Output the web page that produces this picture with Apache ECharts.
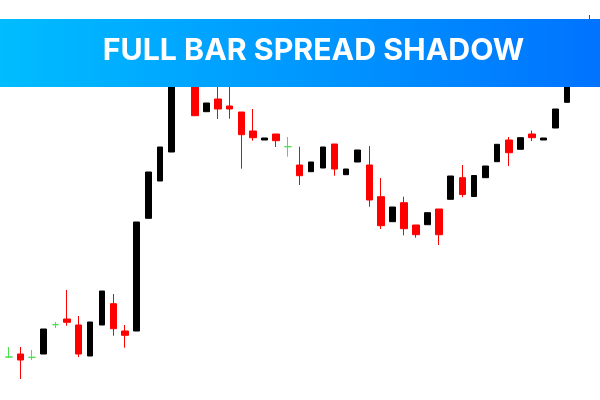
<!DOCTYPE html>
<html>
<head>
<meta charset="utf-8">
<script src="https://cdn.jsdelivr.net/npm/echarts@6/dist/echarts.min.js"></script>
<style>
html,body{margin:0;padding:0;background:#fff;}
#c{width:600px;height:400px;}
</style>
</head>
<body>
<div id="c"></div>
<script>
// Candle index (bar number)
const categories = Array.from({length: 51}, (_, i) => String(i + 1));
// Price values (arbitrary points scale)
const openVals  = [43, 46, 42.7, 46, 75.3, 81, 75, 44, 75, 96.3, 69, 69, 181.7, 219, 248, 325, 335, 288.3, 301, 294, 288, 269, 260, 266, 253.3, 235, 228.3, 232, 256, 225.3, 238, 235, 203.3, 178.3, 197.3, 175, 175.3, 191, 200.7, 222.3, 203.5, 222.3, 238.3, 260, 250.7, 266, 260, 272, 297.7, 335, 375];
const closeVals = [43, 40, 42.7, 71, 75.3, 77.7, 46, 78, 109, 71.3, 64.7, 178, 228, 253, 335, 365, 284.3, 297, 291, 291, 265.3, 262.3, 262, 259.3, 253.3, 224.3, 238, 253, 231, 231, 250, 200, 174.3, 193, 171.3, 165.3, 187.3, 165.3, 224, 205.5, 224.5, 234, 255.7, 247.3, 262.3, 262.3, 262, 291, 330, 370, 350];
const lowVals   = [42, 21, 40, 46, 72, 74.3, 43, 44, 75, 64.3, 52.3, 69, 181.7, 219, 248, 325, 284.3, 288.3, 281, 281.3, 231.3, 259.3, 260, 253, 243.3, 215, 228.3, 232, 224.3, 225.3, 238, 193.3, 171, 178.3, 164.7, 162.3, 175.3, 155, 200.7, 202.7, 203.5, 222.3, 238.3, 234, 250.7, 259, 260, 272, 297.7, 335, 340];
const highVals  = [53, 53, 50, 71, 78, 110, 84, 78, 109, 106, 75, 178, 228, 253, 335, 365, 345, 297, 325, 320, 288, 291, 262, 266, 263, 253.3, 238, 253, 256, 231, 250, 254, 222, 193, 203.3, 175, 187.3, 191, 224, 235, 224.5, 234, 255.7, 263, 262.3, 269.3, 262, 291, 330, 370, 385];
const titleText = 'FULL BAR SPREAD SHADOW';

const upData = [], downData = [], dojiData = [];
for (let i = 0; i < categories.length; i++) {
  const v = [openVals[i], closeVals[i], lowVals[i], highVals[i]];
  const blank = ['-', '-', '-', '-'];
  if (openVals[i] === closeVals[i]) { dojiData.push(v); upData.push(blank); downData.push(blank); }
  else if (closeVals[i] > openVals[i]) { upData.push(v); downData.push(blank); dojiData.push(blank); }
  else { downData.push(v); upData.push(blank); dojiData.push(blank); }
}

const chart = echarts.init(document.getElementById('c'), null, {renderer: 'canvas'});
const green = '#4be04b';
chart.setOption({
  animation: false,
  backgroundColor: '#ffffff',
  grid: {left: 3, right: 4, top: 0, bottom: 0},
  xAxis: {type: 'category', data: categories, boundaryGap: true, show: false},
  yAxis: {type: 'value', min: 0, max: 400, show: false},
  series: [
    {
      type: 'candlestick', data: upData, barWidth: 6,
      itemStyle: {color: '#000', color0: '#000', borderColor: '#000', borderColor0: '#000', borderColorDoji: '#000', borderWidth: 1}
    },
    {
      type: 'candlestick', data: downData, barWidth: 7,
      itemStyle: {color: '#ff0000', color0: '#ff0000', borderColor: '#ff0000', borderColor0: '#ff0000', borderColorDoji: '#ff0000', borderWidth: 1}
    },
    {
      type: 'candlestick', data: dojiData, barWidth: 7,
      itemStyle: {color: green, color0: green, borderColor: green, borderColor0: green, borderColorDoji: green, borderWidth: 1}
    }
  ],
  graphic: [
    {
      type: 'rect', z: 100, silent: true,
      shape: {x: 0, y: 19, width: 600, height: 68},
      style: {
        fill: new echarts.graphic.LinearGradient(0, 0, 1, 0, [
          {offset: 0, color: '#00BDFF'},
          {offset: 1, color: '#0073FF'}
        ])
      }
    },
    {
      type: 'text', z: 101, silent: true,
      x: 313.5, y: 51,
      style: {
        text: titleText, fill: '#ffffff',
        font: '700 30.3px Inter',
        align: 'center', verticalAlign: 'middle'
      }
    }
  ]
});
</script>
</body>
</html>
